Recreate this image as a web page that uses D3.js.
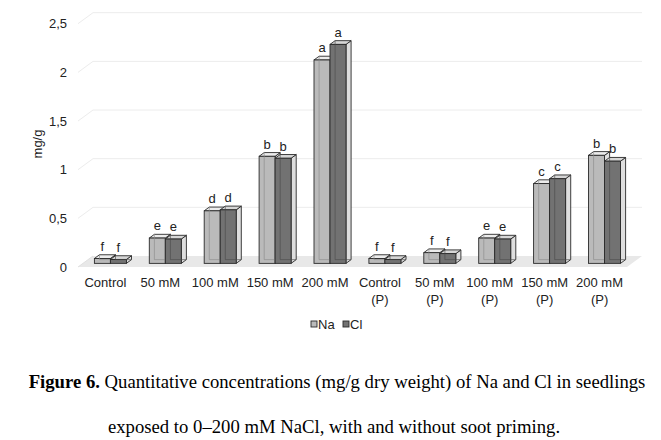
<!DOCTYPE html>
<html><head><meta charset="utf-8">
<script src="https://cdn.jsdelivr.net/npm/d3@7"></script>
<style>
html,body{margin:0;padding:0;background:#fff;}
svg{display:block;}
</style></head>
<body>
<svg id="chart" width="661" height="440"></svg>
<script>
const categories = ["Control","50 mM","100 mM","150 mM","200 mM","Control\n(P)","50 mM\n(P)","100 mM\n(P)","150 mM\n(P)","200 mM\n(P)"];
const series = ["Na","Cl"];
const naValues = [0.05,0.26,0.54,1.10,2.09,0.05,0.11,0.26,0.82,1.11];
const clValues = [0.04,0.25,0.55,1.08,2.25,0.04,0.10,0.25,0.87,1.05];
const naLetters = ["f","e","d","b","a","f","f","e","c","b"];
const clLetters = ["f","e","d","b","a","f","f","e","c","b"];
const yTicks = [0,0.5,1,1.5,2,2.5];
const yTickLabels = ["0","0,5","1","1,5","2","2,5"];
const yLabel = "mg/g";
const captionBold = "Figure 6.";
const captionLine1 = " Quantitative concentrations (mg/g dry weight) of Na and Cl in seedlings";
const captionLine2 = "exposed to 0\u2013200 mM NaCl, with and without soot priming.";

const svg = d3.select("#chart");
const font = "'Liberation Sans', Arial, sans-serif";

// depth vector for the full plot depth
const DX = 15, DY = -11;
const tFront = 0.33, tBack = 0.67;

const x = d3.scaleBand().domain(categories).range([78, 627]).paddingInner(0.417).paddingOuter(0.2085);
const xs = d3.scaleBand().domain(series).range([0, x.bandwidth()]);
const y = d3.scaleLinear().domain([0, 2.5]).range([267, 23.7]);

const colors = {
  Na: {front:"#bababa", top:"#ececec", side:"#e0e0e0", inner:"#8a8a8a"},
  Cl: {front:"#727272", top:"#d6d6d6", side:"#dedede", inner:"#4a4a4a"}
};

const g = svg.append("g");

// floor
const x0 = x.range()[0], x1 = x.range()[1];
g.append("path")
  .attr("d", `M${x0},${y(0)}L${x1},${y(0)}L${x1+DX},${y(0)+DY}L${x0+DX},${y(0)+DY}Z`)
  .attr("fill", "#e8e8e8");

// gridlines (left wall diagonal + back wall horizontal)
yTicks.forEach(v => {
  if (v === 0) return;
  g.append("path")
    .attr("d", `M${x0},${y(v)}L${x0+DX},${y(v)+DY}L${x1+DX},${y(v)+DY}`)
    .attr("fill", "none").attr("stroke", "#ececec").attr("stroke-width", 1);
});
g.append("path")
  .attr("d", `M${x0},${y(0)}L${x0+DX},${y(0)+DY}`)
  .attr("fill","none").attr("stroke","#e0e0e0");

// tick labels
g.selectAll("text.ytick").data(yTicks).enter().append("text")
  .attr("class","ytick")
  .attr("x", 67).attr("y", d => y(d) + 4.5)
  .attr("text-anchor","end")
  .attr("font-family", font).attr("font-size", 13).attr("fill","#222")
  .text((d,i) => yTickLabels[i]);

// y label
g.append("text")
  .attr("transform", `translate(42,${144}) rotate(-90)`)
  .attr("text-anchor","middle")
  .attr("font-family", font).attr("font-size", 13).attr("fill","#222")
  .text(yLabel);

// bars
function drawBar(cat, s, v, letter) {
  const c = colors[s];
  const fx = x(cat) + xs(s) + DX * tFront;
  const w = xs.bandwidth();
  const yb = y(0) + DY * tFront;
  const yt = y(v) + DY * tFront;
  const ddx = DX * (tBack - tFront), ddy = DY * (tBack - tFront);
  const bg = g.append("g");
  bg.append("path")
    .attr("d", `M${fx+w},${yb}L${fx+w+ddx},${yb+ddy}L${fx+w+ddx},${yt+ddy}L${fx+w},${yt}Z`)
    .attr("fill", c.side).attr("stroke","#2a2a2a").attr("stroke-width",0.9);
  bg.append("path")
    .attr("d", `M${fx},${yt}L${fx+w},${yt}L${fx+w+ddx},${yt+ddy}L${fx+ddx},${yt+ddy}Z`)
    .attr("fill", c.top).attr("stroke","#2a2a2a").attr("stroke-width",0.9);
  bg.append("rect")
    .attr("x", fx).attr("y", yt).attr("width", w).attr("height", yb - yt)
    .attr("fill", c.front).attr("stroke","#2a2a2a").attr("stroke-width",0.9);
  bg.append("path")
    .attr("d", `M${fx+ddx},${yt+ddy}L${fx+ddx},${yb+ddy}L${fx+w+ddx},${yb+ddy}`)
    .attr("fill","none").attr("stroke", c.inner).attr("stroke-width",0.8).attr("stroke-opacity",0.8);
  g.append("text")
    .attr("x", fx + w/2).attr("y", yt + ddy - 4)
    .attr("text-anchor","middle")
    .attr("font-family", font).attr("font-size", 13).attr("fill","#222")
    .text(letter);
}

categories.forEach((cat, i) => {
  drawBar(cat, "Na", naValues[i], naLetters[i]);
  drawBar(cat, "Cl", clValues[i], clLetters[i]);
});

// category labels
categories.forEach(cat => {
  const lines = cat.split("\n");
  const t = g.append("text")
    .attr("text-anchor","middle")
    .attr("font-family", font).attr("font-size", 13).attr("fill","#222");
  lines.forEach((ln, j) => {
    t.append("tspan").attr("x", x(cat) + x.bandwidth()/2).attr("y", 287 + j*16.5).text(ln);
  });
});

// legend
const lg = g.append("g");
const legX = [311, 343];
series.forEach((s, i) => {
  lg.append("rect").attr("x", legX[i]).attr("y", 321).attr("width", 6).attr("height", 6)
    .attr("fill", colors[s].front).attr("stroke","#2a2a2a").attr("stroke-width",0.9);
  lg.append("text").attr("x", legX[i] + 7).attr("y", 328.5)
    .attr("font-family", font).attr("font-size", 13).attr("fill","#222").text(s);
});

// caption
const serif = "'Liberation Serif','Times New Roman',serif";
const cap = svg.append("text")
  .attr("x", 337).attr("y", 388)
  .attr("text-anchor","middle")
  .attr("font-family", serif).attr("font-size", 18.7).attr("fill","#000");
cap.append("tspan").attr("font-weight","bold").text(captionBold);
cap.append("tspan").text(captionLine1);
svg.append("text")
  .attr("x", 334).attr("y", 433)
  .attr("text-anchor","middle")
  .attr("font-family", serif).attr("font-size", 18.7).attr("fill","#000")
  .text(captionLine2);
</script>
</body></html>
